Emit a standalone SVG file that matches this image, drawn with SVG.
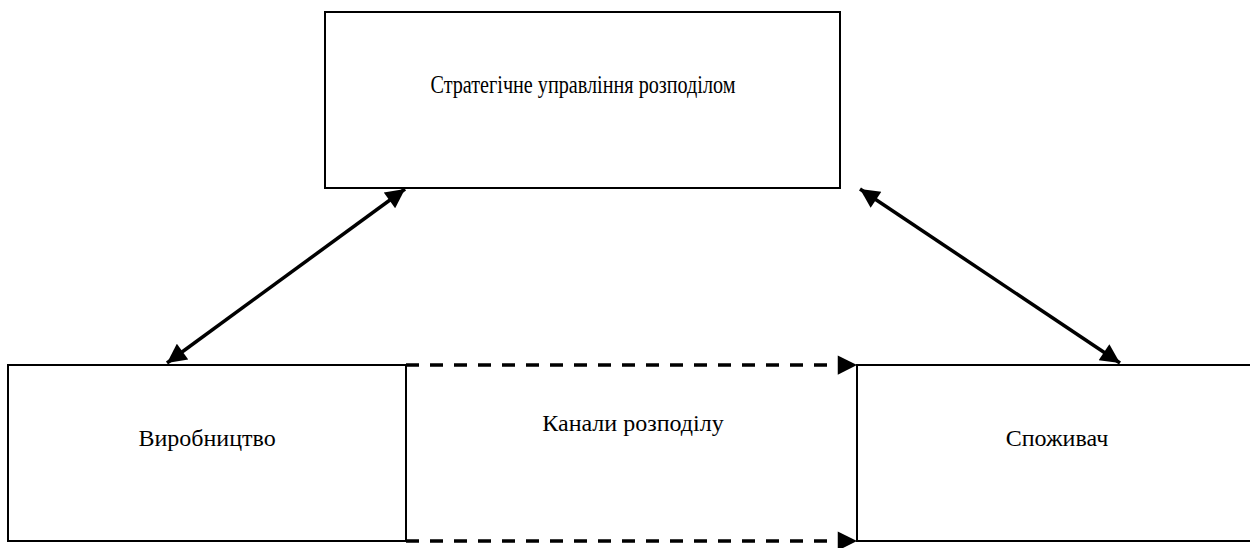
<svg xmlns="http://www.w3.org/2000/svg" width="1250" height="548" viewBox="0 0 1250 548">
<style>
.box{fill:#fff;stroke:#000;stroke-width:2}
.lbl{font-family:"Liberation Serif","Times New Roman",serif;font-size:24px;fill:#000;text-anchor:middle}
.solid{stroke:#000;stroke-width:3.5;fill:none}
.dash{stroke:#000;stroke-width:3.5;fill:none;stroke-dasharray:13,11}
</style>
<defs>
<marker id="ah" viewBox="0 0 10 10" refX="10" refY="5" markerWidth="6.5" markerHeight="5.5" markerUnits="strokeWidth" orient="auto-start-reverse">
<path d="M0,0 L10,5 L0,10 z" fill="#000"/>
</marker>
</defs>
<rect width="1250" height="548" fill="#fff"/>
<g id="strategic">
<rect class="box" x="325" y="12" width="515" height="176"/>
<text class="lbl" x="583" y="93" style="font-size:25px" textLength="305" lengthAdjust="spacingAndGlyphs">Стратегічне управління розподілом</text>
</g>
<g id="production">
<rect class="box" x="8" y="365" width="398" height="176"/>
<text class="lbl" x="207" y="446">Виробництво</text>
</g>
<g id="channels">
<text class="lbl" x="633" y="431">Канали розподілу</text>
</g>
<g id="consumer">
<path class="box" d="M1251,365 H857 V541 H1251"/>
<text class="lbl" x="1057" y="446">Споживач</text>
</g>
<g id="connectors">
<line class="solid" x1="167" y1="363" x2="405" y2="189" marker-start="url(#ah)" marker-end="url(#ah)"/>
<line class="solid" x1="860" y1="189" x2="1120" y2="363" marker-start="url(#ah)" marker-end="url(#ah)"/>
<line class="dash" x1="406" y1="365" x2="857" y2="365" marker-end="url(#ah)"/>
<line class="dash" x1="406" y1="541" x2="857" y2="541" marker-end="url(#ah)"/>
</g>
</svg>
